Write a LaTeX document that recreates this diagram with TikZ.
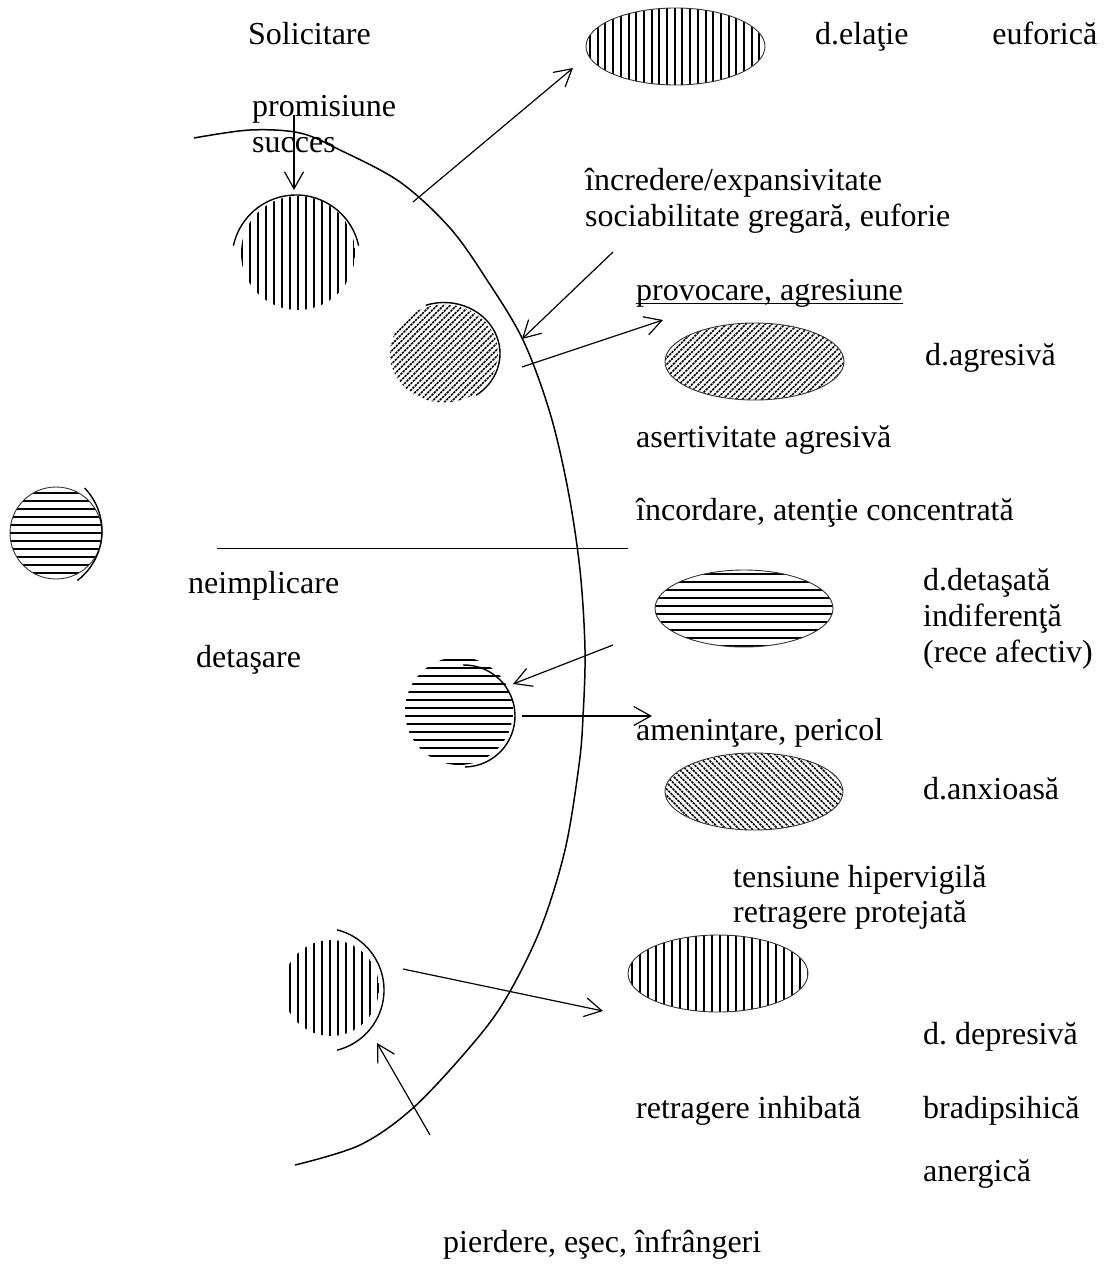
\documentclass[tikz,border=0pt]{standalone}
\usepackage{fontspec}
\setmainfont{Liberation Serif}
\usetikzlibrary{arrows.meta}
\begin{document}
\begin{tikzpicture}[x=1pt,y=1pt,
  lbl/.style={anchor=base west, inner sep=0pt, font=\fontsize{32}{36}\selectfont},
  conn/.style={line width=1.2pt, -{Straight Barb[length=17pt,width=19pt]}},
  bigarc/.style={line width=1.5pt},
  rim/.style={line width=1.4pt},
  hatch/.style={line width=2pt},
  dothatch/.style={line width=1.6pt, dash pattern=on 2.4pt off 0.9pt},
  outline/.style={line width=0.9pt, draw=black!80}]
\useasboundingbox (0,0) rectangle (1105,-1266);

% ---------- the big boundary arc ----------
\draw[bigarc] plot[smooth, tension=0.55] coordinates {
  (194,-138) (250,-130) (300,-133) (340,-150) (400,-182) (450,-228)
  (487,-280) (523,-340) (550,-413) (568,-490) (580,-570) (585,-650)
  (583,-717) (579,-765) (565,-850) (540,-930) (505,-1000) (470,-1047)
  (413,-1108) (360,-1145) (295,-1165)};

% separating line
\coordinate (sepL) at (217,-548);
\coordinate (sepR) at (628,-548);
\draw[line width=1pt] (sepL) -- (sepR);

% ---------- circles (states) ----------
% upper circle, vertical hatching
\begin{scope}
  \clip (298,-253) circle[radius=57];
  \foreach \x in {242,250,...,362} \draw[hatch] (\x,-190) -- (\x,-320);
\end{scope}
\draw[rim] (296,-259) ++(12:64) arc[start angle=12, end angle=168, radius=64];

% aggressive circle, dotted diagonal hatching
\begin{scope}
  \clip (444,-353.5) ellipse[x radius=54, y radius=49];
  \foreach \k in {-120,-113.5,...,120}
    \draw[dothatch] (444+\k-70,-353.5-70) -- (444+\k+70,-353.5+70);
\end{scope}
\draw[rim] (444,-353.5) ++(109:56 and 51) arc[start angle=109, end angle=-55, x radius=56, y radius=51];

% outer circle, horizontal hatching
\begin{scope}
  \clip (56,-533) circle[radius=46];
  \foreach \y in {493,501,...,581} \draw[hatch] (5,-\y) -- (110,-\y);
\end{scope}
\draw[outline] (56,-533) circle[radius=46];
\draw[rim] (40,-531) ++(44:62) arc[start angle=44, end angle=-53, radius=62];

% detachment circle, horizontal hatching
\begin{scope}
  \clip (459,-711) circle[radius=54];
  \foreach \y in {660,668,...,768} \draw[hatch] (400,-\y) -- (520,-\y);
\end{scope}
\draw[rim] (464,-716) ++(91:51) arc[start angle=91, end angle=-89, radius=51];

% lower circle, vertical hatching
\begin{scope}
  \clip (331,-988) circle[radius=48];
  \foreach \x in {282,290,...,386} \draw[hatch] (\x,-935) -- (\x,-1045);
\end{scope}
\draw[rim] (322,-990) ++(76:62) arc[start angle=76, end angle=-76, radius=62];

% ---------- ellipses (dispositions) ----------
% euphoric
\begin{scope}
  \clip (675.5,-46.5) ellipse[x radius=89.5, y radius=38.5];
  \foreach \x in {590,597.7,...,770} \draw[hatch] (\x,0) -- (\x,-95);
\end{scope}
\draw[outline] (675.5,-46.5) ellipse[x radius=89.5, y radius=38.5];

% aggressive
\begin{scope}
  \clip (754.5,-361.5) ellipse[x radius=89.5, y radius=38.5];
  \foreach \k in {-150,-143.5,...,150}
    \draw[dothatch] (754.5+\k-45,-361.5-45) -- (754.5+\k+45,-361.5+45);
\end{scope}
\draw[outline] (754.5,-361.5) ellipse[x radius=89.5, y radius=38.5];

% detached
\begin{scope}
  \clip (744,-608.5) ellipse[x radius=89, y radius=38.5];
  \foreach \y in {574,582,...,650} \draw[hatch] (650,-\y) -- (840,-\y);
\end{scope}
\draw[outline] (744,-608.5) ellipse[x radius=89, y radius=38.5];

% anxious
\begin{scope}
  \clip (754,-791.5) ellipse[x radius=89, y radius=38.5];
  \foreach \k in {-150,-143.5,...,150}
    \draw[dothatch] (754+\k-45,-791.5+45) -- (754+\k+45,-791.5-45);
\end{scope}
\draw[outline] (754,-791.5) ellipse[x radius=89, y radius=38.5];

% depressive
\begin{scope}
  \clip (718,-973.5) ellipse[x radius=90, y radius=38.5];
  \foreach \x in {632,640,...,812} \draw[hatch] (\x,-925) -- (\x,-1020);
\end{scope}
\draw[outline] (718,-973.5) ellipse[x radius=90, y radius=38.5];

% ---------- labels ----------
\node[lbl] (solic) at (248,-44) {Solicitare};
\node[lbl] (prom) at (252,-116) {promisiune};
\node[lbl] (succ) at (252,-152) {succes};
\node[lbl] (elatie) at (815,-44) {\hbox to 282pt{d.elaţie\hfill euforică}};
\node[lbl] (incr) at (585,-190) {încredere/expansivitate};
\node[lbl] (soc) at (585,-226) {sociabilitate gregară, euforie};
\node[lbl] (prov) at (636,-300) {provocare, agresiune};
\draw[line width=1.2pt] ([yshift=-3.5pt]prov.base west) -- ([yshift=-3.5pt]prov.base east);
\node[lbl] (dagr) at (925,-365) {d.agresivă};
\node[lbl] (asert) at (636,-447) {asertivitate agresivă};
\node[lbl] (incord) at (636,-520) {încordare, atenţie concentrată};
\node[lbl] (neimpl) at (188,-593) {neimplicare};
\node[lbl] (detas) at (196,-667) {detaşare};
\node[lbl] (ddet) at (923,-590) {d.detaşată};
\node[lbl] (indif) at (923,-626) {indiferenţă};
\node[lbl] (rece) at (923,-662) {(rece afectiv)};
\node[lbl] (amen) at (636,-740) {ameninţare, pericol};
\node[lbl] (danx) at (923,-799) {d.anxioasă};
\node[lbl] (tens) at (733,-887) {tensiune hipervigilă};
\node[lbl] (retrp) at (733,-922) {retragere protejată};
\node[lbl] (ddep) at (923,-1044) {d.\ depresivă};
\node[lbl] (retri) at (636,-1118) {retragere inhibată};
\node[lbl] (brad) at (923,-1118) {bradipsihică};
\node[lbl] (anerg) at (923,-1181) {anergică};
\node[lbl] (pierd) at (443,-1252) {pierdere, eşec, înfrângeri};

% ---------- connectors ----------
\coordinate (a1s) at (413,-202);  \coordinate (a1e) at (573,-68);
\coordinate (a2s) at (294,-115);  \coordinate (a2e) at (294,-190);
\coordinate (a3s) at (613,-252);  \coordinate (a3e) at (522,-339);
\coordinate (a4s) at (522,-367);  \coordinate (a4e) at (663,-320);
\coordinate (a5s) at (613,-645);  \coordinate (a5e) at (513,-684);
\coordinate (a6s) at (522,-716);  \coordinate (a6e) at (652,-716);
\coordinate (a7s) at (403,-969);  \coordinate (a7e) at (603,-1011);
\coordinate (a8s) at (430,-1135); \coordinate (a8e) at (377,-1043);
\draw[conn] (a1s) -- (a1e);
\draw[conn] (a2s) -- (a2e);
\draw[conn] (a3s) -- (a3e);
\draw[conn] (a4s) -- (a4e);
\draw[conn] (a5s) -- (a5e);
\draw[conn] (a6s) -- (a6e);
\draw[conn] (a7s) -- (a7e);
\draw[conn] (a8s) -- (a8e);
\end{tikzpicture}
\end{document}
